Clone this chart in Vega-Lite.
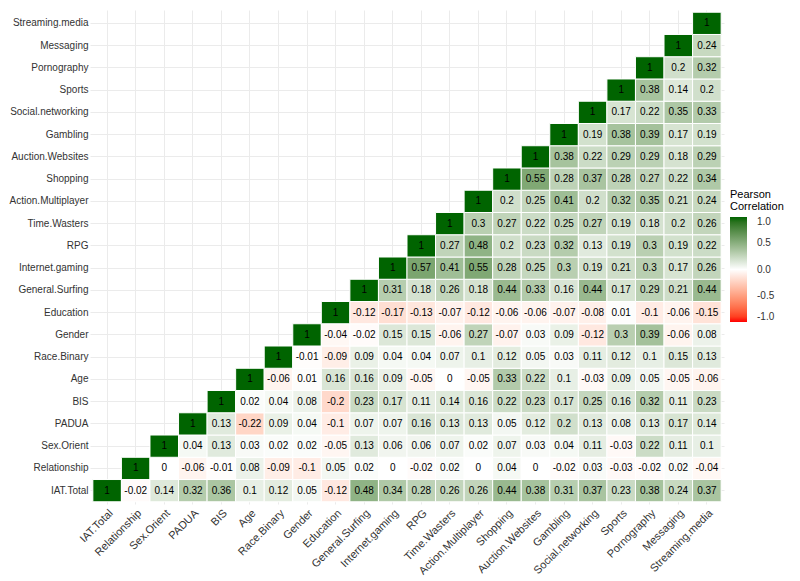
{
  "$schema": "https://vega.github.io/schema/vega-lite/v6.json",
  "width": 634,
  "height": 494,
  "autosize": {"type": "none"},
  "padding": {"left": 90, "top": 10, "right": 76, "bottom": 77},
  "background": "white",
  "config": {"view": {"stroke": null}, "font": "Liberation Sans"},
  "data": {"values": [
    {"y":"IAT.Total","x":"IAT.Total","v":1},{"y":"IAT.Total","x":"Relationship","v":-0.02},{"y":"IAT.Total","x":"Sex.Orient","v":0.14},{"y":"IAT.Total","x":"PADUA","v":0.32},{"y":"IAT.Total","x":"BIS","v":0.36},{"y":"IAT.Total","x":"Age","v":0.1},{"y":"IAT.Total","x":"Race.Binary","v":0.12},{"y":"IAT.Total","x":"Gender","v":0.05},{"y":"IAT.Total","x":"Education","v":-0.12},{"y":"IAT.Total","x":"General.Surfing","v":0.48},{"y":"IAT.Total","x":"Internet.gaming","v":0.34},{"y":"IAT.Total","x":"RPG","v":0.28},{"y":"IAT.Total","x":"Time.Wasters","v":0.26},{"y":"IAT.Total","x":"Action.Multiplayer","v":0.26},{"y":"IAT.Total","x":"Shopping","v":0.44},{"y":"IAT.Total","x":"Auction.Websites","v":0.38},{"y":"IAT.Total","x":"Gambling","v":0.31},{"y":"IAT.Total","x":"Social.networking","v":0.37},{"y":"IAT.Total","x":"Sports","v":0.23},{"y":"IAT.Total","x":"Pornography","v":0.38},{"y":"IAT.Total","x":"Messaging","v":0.24},{"y":"IAT.Total","x":"Streaming.media","v":0.37},
    {"y":"Relationship","x":"Relationship","v":1},{"y":"Relationship","x":"Sex.Orient","v":0},{"y":"Relationship","x":"PADUA","v":-0.06},{"y":"Relationship","x":"BIS","v":-0.01},{"y":"Relationship","x":"Age","v":0.08},{"y":"Relationship","x":"Race.Binary","v":-0.09},{"y":"Relationship","x":"Gender","v":-0.1},{"y":"Relationship","x":"Education","v":0.05},{"y":"Relationship","x":"General.Surfing","v":0.02},{"y":"Relationship","x":"Internet.gaming","v":0},{"y":"Relationship","x":"RPG","v":-0.02},{"y":"Relationship","x":"Time.Wasters","v":0.02},{"y":"Relationship","x":"Action.Multiplayer","v":0},{"y":"Relationship","x":"Shopping","v":0.04},{"y":"Relationship","x":"Auction.Websites","v":0},{"y":"Relationship","x":"Gambling","v":-0.02},{"y":"Relationship","x":"Social.networking","v":0.03},{"y":"Relationship","x":"Sports","v":-0.03},{"y":"Relationship","x":"Pornography","v":-0.02},{"y":"Relationship","x":"Messaging","v":0.02},{"y":"Relationship","x":"Streaming.media","v":-0.04},
    {"y":"Sex.Orient","x":"Sex.Orient","v":1},{"y":"Sex.Orient","x":"PADUA","v":0.04},{"y":"Sex.Orient","x":"BIS","v":0.13},{"y":"Sex.Orient","x":"Age","v":0.03},{"y":"Sex.Orient","x":"Race.Binary","v":0.02},{"y":"Sex.Orient","x":"Gender","v":0.02},{"y":"Sex.Orient","x":"Education","v":-0.05},{"y":"Sex.Orient","x":"General.Surfing","v":0.13},{"y":"Sex.Orient","x":"Internet.gaming","v":0.06},{"y":"Sex.Orient","x":"RPG","v":0.06},{"y":"Sex.Orient","x":"Time.Wasters","v":0.07},{"y":"Sex.Orient","x":"Action.Multiplayer","v":0.02},{"y":"Sex.Orient","x":"Shopping","v":0.07},{"y":"Sex.Orient","x":"Auction.Websites","v":0.03},{"y":"Sex.Orient","x":"Gambling","v":0.04},{"y":"Sex.Orient","x":"Social.networking","v":0.11},{"y":"Sex.Orient","x":"Sports","v":-0.03},{"y":"Sex.Orient","x":"Pornography","v":0.22},{"y":"Sex.Orient","x":"Messaging","v":0.11},{"y":"Sex.Orient","x":"Streaming.media","v":0.1},
    {"y":"PADUA","x":"PADUA","v":1},{"y":"PADUA","x":"BIS","v":0.13},{"y":"PADUA","x":"Age","v":-0.22},{"y":"PADUA","x":"Race.Binary","v":0.09},{"y":"PADUA","x":"Gender","v":0.04},{"y":"PADUA","x":"Education","v":-0.1},{"y":"PADUA","x":"General.Surfing","v":0.07},{"y":"PADUA","x":"Internet.gaming","v":0.07},{"y":"PADUA","x":"RPG","v":0.16},{"y":"PADUA","x":"Time.Wasters","v":0.13},{"y":"PADUA","x":"Action.Multiplayer","v":0.13},{"y":"PADUA","x":"Shopping","v":0.05},{"y":"PADUA","x":"Auction.Websites","v":0.12},{"y":"PADUA","x":"Gambling","v":0.2},{"y":"PADUA","x":"Social.networking","v":0.13},{"y":"PADUA","x":"Sports","v":0.08},{"y":"PADUA","x":"Pornography","v":0.13},{"y":"PADUA","x":"Messaging","v":0.17},{"y":"PADUA","x":"Streaming.media","v":0.14},
    {"y":"BIS","x":"BIS","v":1},{"y":"BIS","x":"Age","v":0.02},{"y":"BIS","x":"Race.Binary","v":0.04},{"y":"BIS","x":"Gender","v":0.08},{"y":"BIS","x":"Education","v":-0.2},{"y":"BIS","x":"General.Surfing","v":0.23},{"y":"BIS","x":"Internet.gaming","v":0.17},{"y":"BIS","x":"RPG","v":0.11},{"y":"BIS","x":"Time.Wasters","v":0.14},{"y":"BIS","x":"Action.Multiplayer","v":0.16},{"y":"BIS","x":"Shopping","v":0.22},{"y":"BIS","x":"Auction.Websites","v":0.23},{"y":"BIS","x":"Gambling","v":0.17},{"y":"BIS","x":"Social.networking","v":0.25},{"y":"BIS","x":"Sports","v":0.16},{"y":"BIS","x":"Pornography","v":0.32},{"y":"BIS","x":"Messaging","v":0.11},{"y":"BIS","x":"Streaming.media","v":0.23},
    {"y":"Age","x":"Age","v":1},{"y":"Age","x":"Race.Binary","v":-0.06},{"y":"Age","x":"Gender","v":0.01},{"y":"Age","x":"Education","v":0.16},{"y":"Age","x":"General.Surfing","v":0.16},{"y":"Age","x":"Internet.gaming","v":0.09},{"y":"Age","x":"RPG","v":-0.05},{"y":"Age","x":"Time.Wasters","v":0},{"y":"Age","x":"Action.Multiplayer","v":-0.05},{"y":"Age","x":"Shopping","v":0.33},{"y":"Age","x":"Auction.Websites","v":0.22},{"y":"Age","x":"Gambling","v":0.1},{"y":"Age","x":"Social.networking","v":-0.03},{"y":"Age","x":"Sports","v":0.09},{"y":"Age","x":"Pornography","v":0.05},{"y":"Age","x":"Messaging","v":-0.05},{"y":"Age","x":"Streaming.media","v":-0.06},
    {"y":"Race.Binary","x":"Race.Binary","v":1},{"y":"Race.Binary","x":"Gender","v":-0.01},{"y":"Race.Binary","x":"Education","v":-0.09},{"y":"Race.Binary","x":"General.Surfing","v":0.09},{"y":"Race.Binary","x":"Internet.gaming","v":0.04},{"y":"Race.Binary","x":"RPG","v":0.04},{"y":"Race.Binary","x":"Time.Wasters","v":0.07},{"y":"Race.Binary","x":"Action.Multiplayer","v":0.1},{"y":"Race.Binary","x":"Shopping","v":0.12},{"y":"Race.Binary","x":"Auction.Websites","v":0.05},{"y":"Race.Binary","x":"Gambling","v":0.03},{"y":"Race.Binary","x":"Social.networking","v":0.11},{"y":"Race.Binary","x":"Sports","v":0.12},{"y":"Race.Binary","x":"Pornography","v":0.1},{"y":"Race.Binary","x":"Messaging","v":0.15},{"y":"Race.Binary","x":"Streaming.media","v":0.13},
    {"y":"Gender","x":"Gender","v":1},{"y":"Gender","x":"Education","v":-0.04},{"y":"Gender","x":"General.Surfing","v":-0.02},{"y":"Gender","x":"Internet.gaming","v":0.15},{"y":"Gender","x":"RPG","v":0.15},{"y":"Gender","x":"Time.Wasters","v":-0.06},{"y":"Gender","x":"Action.Multiplayer","v":0.27},{"y":"Gender","x":"Shopping","v":-0.07},{"y":"Gender","x":"Auction.Websites","v":0.03},{"y":"Gender","x":"Gambling","v":0.09},{"y":"Gender","x":"Social.networking","v":-0.12},{"y":"Gender","x":"Sports","v":0.3},{"y":"Gender","x":"Pornography","v":0.39},{"y":"Gender","x":"Messaging","v":-0.06},{"y":"Gender","x":"Streaming.media","v":0.08},
    {"y":"Education","x":"Education","v":1},{"y":"Education","x":"General.Surfing","v":-0.12},{"y":"Education","x":"Internet.gaming","v":-0.17},{"y":"Education","x":"RPG","v":-0.13},{"y":"Education","x":"Time.Wasters","v":-0.07},{"y":"Education","x":"Action.Multiplayer","v":-0.12},{"y":"Education","x":"Shopping","v":-0.06},{"y":"Education","x":"Auction.Websites","v":-0.06},{"y":"Education","x":"Gambling","v":-0.07},{"y":"Education","x":"Social.networking","v":-0.08},{"y":"Education","x":"Sports","v":0.01},{"y":"Education","x":"Pornography","v":-0.1},{"y":"Education","x":"Messaging","v":-0.06},{"y":"Education","x":"Streaming.media","v":-0.15},
    {"y":"General.Surfing","x":"General.Surfing","v":1},{"y":"General.Surfing","x":"Internet.gaming","v":0.31},{"y":"General.Surfing","x":"RPG","v":0.18},{"y":"General.Surfing","x":"Time.Wasters","v":0.26},{"y":"General.Surfing","x":"Action.Multiplayer","v":0.18},{"y":"General.Surfing","x":"Shopping","v":0.44},{"y":"General.Surfing","x":"Auction.Websites","v":0.33},{"y":"General.Surfing","x":"Gambling","v":0.16},{"y":"General.Surfing","x":"Social.networking","v":0.44},{"y":"General.Surfing","x":"Sports","v":0.17},{"y":"General.Surfing","x":"Pornography","v":0.29},{"y":"General.Surfing","x":"Messaging","v":0.21},{"y":"General.Surfing","x":"Streaming.media","v":0.44},
    {"y":"Internet.gaming","x":"Internet.gaming","v":1},{"y":"Internet.gaming","x":"RPG","v":0.57},{"y":"Internet.gaming","x":"Time.Wasters","v":0.41},{"y":"Internet.gaming","x":"Action.Multiplayer","v":0.55},{"y":"Internet.gaming","x":"Shopping","v":0.28},{"y":"Internet.gaming","x":"Auction.Websites","v":0.25},{"y":"Internet.gaming","x":"Gambling","v":0.3},{"y":"Internet.gaming","x":"Social.networking","v":0.19},{"y":"Internet.gaming","x":"Sports","v":0.21},{"y":"Internet.gaming","x":"Pornography","v":0.3},{"y":"Internet.gaming","x":"Messaging","v":0.17},{"y":"Internet.gaming","x":"Streaming.media","v":0.26},
    {"y":"RPG","x":"RPG","v":1},{"y":"RPG","x":"Time.Wasters","v":0.27},{"y":"RPG","x":"Action.Multiplayer","v":0.48},{"y":"RPG","x":"Shopping","v":0.2},{"y":"RPG","x":"Auction.Websites","v":0.23},{"y":"RPG","x":"Gambling","v":0.32},{"y":"RPG","x":"Social.networking","v":0.13},{"y":"RPG","x":"Sports","v":0.19},{"y":"RPG","x":"Pornography","v":0.3},{"y":"RPG","x":"Messaging","v":0.19},{"y":"RPG","x":"Streaming.media","v":0.22},
    {"y":"Time.Wasters","x":"Time.Wasters","v":1},{"y":"Time.Wasters","x":"Action.Multiplayer","v":0.3},{"y":"Time.Wasters","x":"Shopping","v":0.27},{"y":"Time.Wasters","x":"Auction.Websites","v":0.22},{"y":"Time.Wasters","x":"Gambling","v":0.25},{"y":"Time.Wasters","x":"Social.networking","v":0.27},{"y":"Time.Wasters","x":"Sports","v":0.19},{"y":"Time.Wasters","x":"Pornography","v":0.18},{"y":"Time.Wasters","x":"Messaging","v":0.2},{"y":"Time.Wasters","x":"Streaming.media","v":0.26},
    {"y":"Action.Multiplayer","x":"Action.Multiplayer","v":1},{"y":"Action.Multiplayer","x":"Shopping","v":0.2},{"y":"Action.Multiplayer","x":"Auction.Websites","v":0.25},{"y":"Action.Multiplayer","x":"Gambling","v":0.41},{"y":"Action.Multiplayer","x":"Social.networking","v":0.2},{"y":"Action.Multiplayer","x":"Sports","v":0.32},{"y":"Action.Multiplayer","x":"Pornography","v":0.35},{"y":"Action.Multiplayer","x":"Messaging","v":0.21},{"y":"Action.Multiplayer","x":"Streaming.media","v":0.24},
    {"y":"Shopping","x":"Shopping","v":1},{"y":"Shopping","x":"Auction.Websites","v":0.55},{"y":"Shopping","x":"Gambling","v":0.28},{"y":"Shopping","x":"Social.networking","v":0.37},{"y":"Shopping","x":"Sports","v":0.28},{"y":"Shopping","x":"Pornography","v":0.27},{"y":"Shopping","x":"Messaging","v":0.22},{"y":"Shopping","x":"Streaming.media","v":0.34},
    {"y":"Auction.Websites","x":"Auction.Websites","v":1},{"y":"Auction.Websites","x":"Gambling","v":0.38},{"y":"Auction.Websites","x":"Social.networking","v":0.22},{"y":"Auction.Websites","x":"Sports","v":0.29},{"y":"Auction.Websites","x":"Pornography","v":0.29},{"y":"Auction.Websites","x":"Messaging","v":0.18},{"y":"Auction.Websites","x":"Streaming.media","v":0.29},
    {"y":"Gambling","x":"Gambling","v":1},{"y":"Gambling","x":"Social.networking","v":0.19},{"y":"Gambling","x":"Sports","v":0.38},{"y":"Gambling","x":"Pornography","v":0.39},{"y":"Gambling","x":"Messaging","v":0.17},{"y":"Gambling","x":"Streaming.media","v":0.19},
    {"y":"Social.networking","x":"Social.networking","v":1},{"y":"Social.networking","x":"Sports","v":0.17},{"y":"Social.networking","x":"Pornography","v":0.22},{"y":"Social.networking","x":"Messaging","v":0.35},{"y":"Social.networking","x":"Streaming.media","v":0.33},
    {"y":"Sports","x":"Sports","v":1},{"y":"Sports","x":"Pornography","v":0.38},{"y":"Sports","x":"Messaging","v":0.14},{"y":"Sports","x":"Streaming.media","v":0.2},
    {"y":"Pornography","x":"Pornography","v":1},{"y":"Pornography","x":"Messaging","v":0.2},{"y":"Pornography","x":"Streaming.media","v":0.32},
    {"y":"Messaging","x":"Messaging","v":1},{"y":"Messaging","x":"Streaming.media","v":0.24},
    {"y":"Streaming.media","x":"Streaming.media","v":1}
  ]},
  "encoding": {
    "x": {
      "field": "x", "type": "nominal",
      "scale": {"domain": ["IAT.Total","Relationship","Sex.Orient","PADUA","BIS","Age","Race.Binary","Gender","Education","General.Surfing","Internet.gaming","RPG","Time.Wasters","Action.Multiplayer","Shopping","Auction.Websites","Gambling","Social.networking","Sports","Pornography","Messaging","Streaming.media"], "paddingInner": 0, "paddingOuter": 0.1},
      "axis": {"title": null, "zindex": 0, "labelAngle": -45, "labelAlign": "right", "labelBaseline": "top", "labelFontSize": 11, "labelColor": "#333333", "ticks": false, "domain": false, "grid": true, "gridColor": "#ebebeb", "gridWidth": 1, "bandPosition": 0.5, "labelPadding": 3}
    },
    "y": {
      "field": "y", "type": "nominal",
      "scale": {"domain": ["Streaming.media","Messaging","Pornography","Sports","Social.networking","Gambling","Auction.Websites","Shopping","Action.Multiplayer","Time.Wasters","RPG","Internet.gaming","General.Surfing","Education","Gender","Race.Binary","Age","BIS","PADUA","Sex.Orient","Relationship","IAT.Total"], "paddingInner": 0, "paddingOuter": 0.1},
      "axis": {"title": null, "zindex": 0, "labelFontSize": 10, "labelColor": "#333333", "ticks": false, "domain": false, "grid": true, "gridColor": "#ebebeb", "gridWidth": 1, "bandPosition": 0.5, "labelPadding": 2}
    }
  },
  "layer": [
    {
      "mark": {"type": "rect", "stroke": "white", "strokeWidth": 1},
      "encoding": {
        "color": {
          "field": "v", "type": "quantitative",
          "scale": {"domain": [-1, 0, 1], "range": ["#ff0000", "#ffffff", "#006400"], "interpolate": "lab"},
          "legend": {
            "title": ["Pearson", "Correlation"],
            "orient": "none", "legendX": 640, "legendY": 179,
            "direction": "vertical",
            "gradientLength": 105, "gradientThickness": 17, "gradientStrokeWidth": 0,
            "values": [1, 0.5, 0, -0.5, -1],
            "labelExpr": "replace(format(datum.value, '.1f'), '−', '-')",
            "labelBaseline": "middle",
            "titleFontSize": 11, "titleFontWeight": "normal", "titleColor": "#000000", "titlePadding": 5, "titleLineHeight": 12,
            "labelFontSize": 10, "labelColor": "#333333", "labelOffset": 10
          }
        }
      }
    },
    {
      "mark": {"type": "text", "fontSize": 10, "color": "#000000"},
      "encoding": {"text": {"field": "v", "type": "nominal"}}
    }
  ]
}
